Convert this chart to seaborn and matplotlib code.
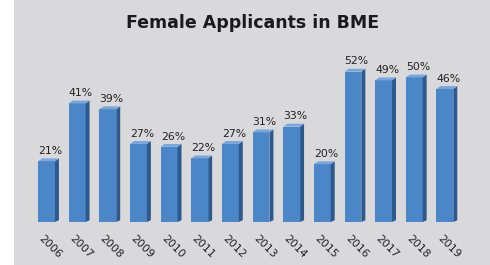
import matplotlib
matplotlib.use("Agg")
import matplotlib.pyplot as plt
from matplotlib.patches import Polygon, Rectangle
from matplotlib.transforms import ScaledTranslation
import seaborn as sns
import pandas as pd

years = ["2006", "2007", "2008", "2009", "2010", "2011", "2012",
         "2013", "2014", "2015", "2016", "2017", "2018", "2019"]
percent = [21, 41, 39, 27, 26, 22, 27, 31, 33, 20, 52, 49, 50, 46]
title = "Female Applicants in BME"

df = pd.DataFrame({"year": years, "pct": percent})

sns.set_theme(style="white")
plt.rcParams["font.family"] = ["DejaVu Sans"]

fig = plt.figure(figsize=(4.9, 2.65), dpi=100)
fig.patch.set_facecolor("white")
fig.patches.append(Rectangle((14 / 490, 0), 1 - 14 / 490, 1, transform=fig.transFigure,
                             facecolor="#d9d9db", edgecolor="none", zorder=-10))

ax = fig.add_axes([31.2 / 490, 43 / 265, 429 / 490, 159 / 265])
ax.set_facecolor("none")
ax.set_zorder(1)

front = "#4b86c9"
side = "#2c5a8f"
top = "#79a6db"

sns.barplot(data=df, x="year", y="pct", color=front, saturation=1, width=0.55,
            ax=ax, edgecolor="none")
ax.set_xlim(-0.5, len(years) - 0.5)
ax.set_ylim(0, 55)

dx, dy = 0.13, 1.0
for p in list(ax.patches):
    x0, y0 = p.get_x(), p.get_y()
    w, h = p.get_width(), p.get_height()
    x1, y1 = x0 + w, y0 + h
    ax.add_patch(Polygon([(x1, y0), (x1 + dx, y0 + dy * 0.6), (x1 + dx, y1 + dy), (x1, y1)],
                         closed=True, facecolor=side, edgecolor="none", zorder=p.get_zorder()))
    ax.add_patch(Polygon([(x0, y1), (x0 + dx, y1 + dy), (x1 + dx, y1 + dy), (x1, y1)],
                         closed=True, facecolor=top, edgecolor="none", zorder=p.get_zorder()))
    ax.text(x0 + w / 2 + 0.12, y1 + dy + 0.8, f"{int(round(h))}%", ha="center", va="bottom",
            fontsize=7.8, color="#222222")

ax.set_xlabel("")
ax.set_ylabel("")
ax.set_yticks([])
ax.tick_params(axis="x", length=0, pad=11, labelsize=7.8, labelcolor="#222222")
shift = ScaledTranslation(-6 / 100, 0, fig.dpi_scale_trans)
for lbl in ax.get_xticklabels():
    lbl.set_rotation(-45)
    lbl.set_ha("left")
    lbl.set_va("center")
    lbl.set_rotation_mode("anchor")
    lbl.set_transform(lbl.get_transform() + shift)
for s in ax.spines.values():
    s.set_visible(False)

fig.text(253 / 490, 1 - 23 / 265, title, ha="center", va="center",
         fontsize=12.5, fontweight="bold", color="#1a1a1a")

fig.savefig("out.png", dpi=100, facecolor=fig.get_facecolor())
